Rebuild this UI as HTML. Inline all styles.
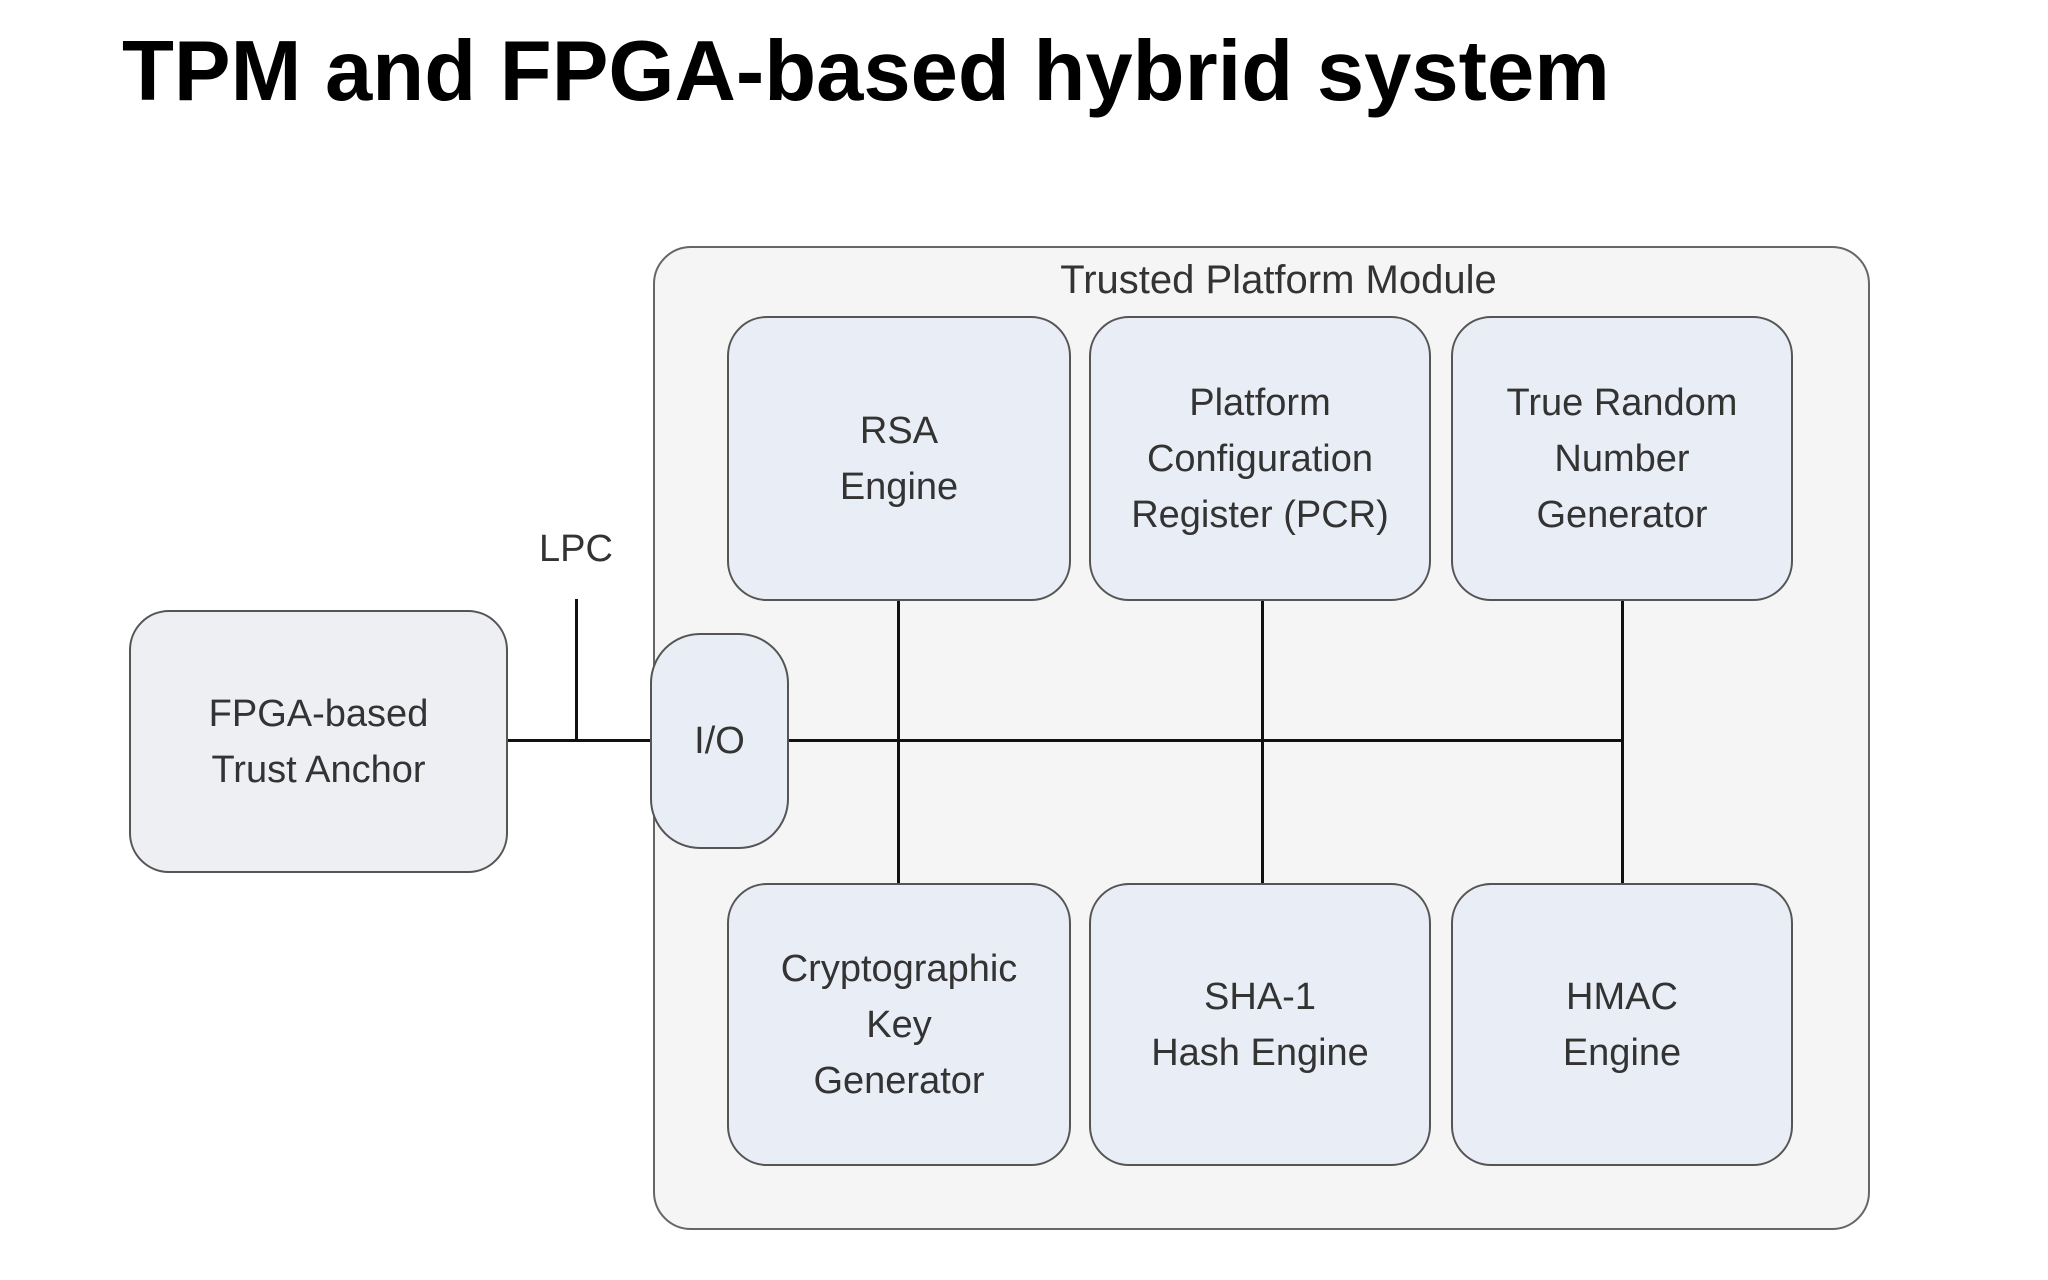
<!DOCTYPE html>
<html><head><style>
body{margin:0;width:2048px;height:1280px;background:#fff;position:relative;overflow:hidden;font-family:"Liberation Sans",sans-serif}
h1{position:absolute;left:122px;top:23px;margin:0;font-size:85px;font-weight:bold;color:#000;letter-spacing:0px}
.b{position:absolute;border:2.5px solid #555;border-radius:40px;background:#e9edf5;box-sizing:border-box;display:flex;align-items:center;justify-content:center;text-align:center;color:#333;font-size:38px;line-height:56px}
.l{position:absolute;background:#111}
</style></head><body>
<h1>TPM and FPGA-based hybrid system</h1>
<div class="b" style="left:653px;top:246px;width:1217px;height:984px;background:#f5f5f6;border-radius:38px;border-color:#666"></div>
<div style="position:absolute;left:670px;width:1217px;top:258px;text-align:center;font-size:40px;color:#333">Trusted Platform Module</div>
<div class="b" style="left:727px;top:316px;width:344px;height:285px">RSA<br>Engine</div>
<div class="b" style="left:1089px;top:316px;width:342px;height:285px">Platform<br>Configuration<br>Register (PCR)</div>
<div class="b" style="left:1451px;top:316px;width:342px;height:285px">True Random<br>Number<br>Generator</div>
<div class="b" style="left:727px;top:883px;width:344px;height:283px">Cryptographic<br>Key<br>Generator</div>
<div class="b" style="left:1089px;top:883px;width:342px;height:283px">SHA-1<br>Hash Engine</div>
<div class="b" style="left:1451px;top:883px;width:342px;height:283px">HMAC<br>Engine</div>
<div class="b" style="left:129px;top:610px;width:379px;height:263px;background:#eeeff2">FPGA-based<br>Trust Anchor</div>
<div class="b" style="left:650px;top:633px;width:139px;height:216px;border-radius:50px">I/O</div>
<div class="l" style="left:508px;top:739px;width:142px;height:3px"></div>
<div class="l" style="left:789px;top:739px;width:834px;height:3px"></div>
<div class="l" style="left:575px;top:599px;width:3px;height:141px"></div>
<div style="position:absolute;left:526px;width:100px;top:528px;text-align:center;font-size:38px;color:#333">LPC</div>
<div class="l" style="left:897px;top:601px;width:3px;height:282px"></div>
<div class="l" style="left:1261px;top:601px;width:3px;height:282px"></div>
<div class="l" style="left:1621px;top:601px;width:3px;height:282px"></div>
</body></html>
